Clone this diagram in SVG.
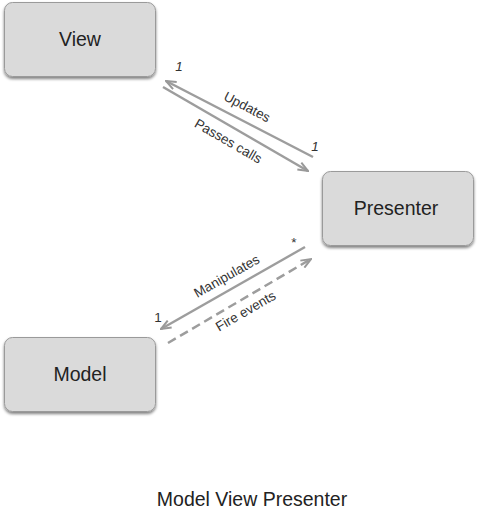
<svg xmlns="http://www.w3.org/2000/svg" width="477" height="511" viewBox="0 0 477 511">
<defs>
<filter id="sh" x="-10%" y="-10%" width="120%" height="130%">
<feGaussianBlur in="SourceAlpha" stdDeviation="1.5"/>
<feOffset dx="0" dy="2" result="b"/>
<feComponentTransfer><feFuncA type="linear" slope="0.5"/></feComponentTransfer>
<feMerge><feMergeNode/><feMergeNode in="SourceGraphic"/></feMerge>
</filter>
<marker id="ah" viewBox="0 0 12 10" refX="11" refY="5" markerWidth="12" markerHeight="10" markerUnits="userSpaceOnUse" orient="auto">
<path d="M1,1 L11,5 L1,9" fill="none" stroke="#999" stroke-width="2"/>
</marker>
</defs>
<style>
.box{fill:#dadada;stroke:#9a9a9a;stroke-width:1}
.lbl{font-family:"Liberation Sans",Arial,sans-serif;font-size:19.5px;fill:#222;text-anchor:middle}
.small{font-family:"Liberation Sans",Arial,sans-serif;font-size:13.5px;fill:#333;text-anchor:middle}
.edge{stroke:#9d9d9d;stroke-width:2.5;fill:none}
.dash{stroke-dasharray:9,5}
</style>
<rect width="477" height="511" fill="#fff"/>
<g id="view"><rect class="box" x="4.5" y="2.5" width="151" height="74" rx="8" filter="url(#sh)"/><text class="lbl" x="80" y="46">View</text></g>
<g id="presenter"><rect class="box" x="322.5" y="171.5" width="151" height="74" rx="8" filter="url(#sh)"/><text class="lbl" x="396" y="215">Presenter</text></g>
<g id="model"><rect class="box" x="4.5" y="337.5" width="151" height="74" rx="8" filter="url(#sh)"/><text class="lbl" x="80" y="381">Model</text></g>
<g id="connectors">
<line class="edge" x1="313" y1="157" x2="166" y2="81" marker-end="url(#ah)"/>
<line class="edge" x1="163" y1="87" x2="308" y2="171" marker-end="url(#ah)"/>
<line class="edge" x1="305" y1="247" x2="161" y2="329" marker-end="url(#ah)"/>
<line class="edge dash" x1="168" y1="343" x2="311" y2="259" marker-end="url(#ah)"/>
<text class="small" x="179" y="71" font-style="italic">1</text>
<text class="small" x="315" y="151" font-style="italic">1</text>
<text class="small" x="294" y="247">*</text>
<text class="small" x="158" y="322">1</text>
<text class="small" transform="translate(245,111) rotate(27.5)">Updates</text>
<text class="small" transform="translate(226,145) rotate(30)">Passes calls</text>
<text class="small" transform="translate(229,280) rotate(-29.5)">Manipulates</text>
<text class="small" transform="translate(248,315) rotate(-30)">Fire events</text>
</g>
<text class="lbl" x="252" y="506">Model View Presenter</text>
</svg>
